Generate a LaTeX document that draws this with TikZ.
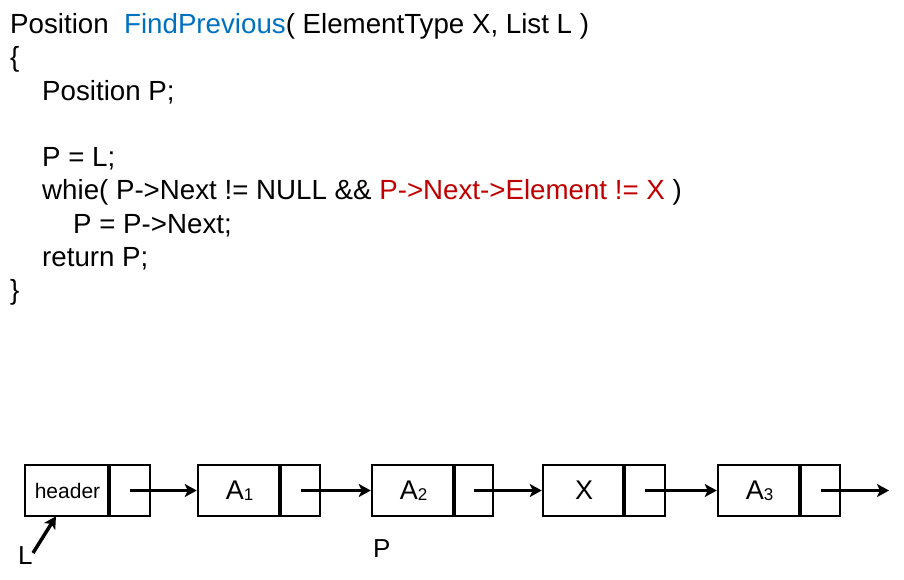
\documentclass[tikz,border=0pt]{standalone}
\usepackage{fontspec}
\setmainfont{Liberation Sans}
\usetikzlibrary{arrows.meta}
\definecolor{fnblue}{RGB}{0,112,192}
\definecolor{condred}{RGB}{192,0,0}
\begin{document}
\begin{tikzpicture}[x=1pt,y=-1pt,
  code/.style={anchor=base west,inner sep=0pt,font=\fontsize{27.7}{33}\selectfont},
  datacell/.style={draw,line width=2.5pt,minimum height=51pt,inner sep=0pt,font=\fontsize{27}{30}\selectfont},
  ptrcell/.style={draw,line width=2.5pt,minimum height=51pt,minimum width=40pt,inner sep=0pt},
  link/.style={line width=3.3pt,-{Stealth[length=12pt,width=13pt,inset=3pt]}},
  lbl/.style={anchor=base west,inner sep=0pt,font=\fontsize{26}{30}\selectfont}]
\useasboundingbox (0,0) rectangle (904,579);
\newcommand{\sbs}[1]{\raisebox{-1pt}{\fontsize{17}{17}\selectfont #1}}
% code
\node[code] (l1) at (10,33) {Position\ \ \textcolor{fnblue}{FindPrevious}( ElementType X, List L )};
\node[code] (l2) at (10,66) {\{};
\node[code] (l3) at (42,100) {Position P;};
\node[code] (l4) at (42,166) {P = L;};
\node[code] (l5) at (42,199) {whie( P->Next != NULL \&\& \textcolor{condred}{P->Next->Element != X} )};
\node[code] (l6) at (73,233) {P = P->Next;};
\node[code] (l7) at (42,266) {return P;};
\node[code] (l8) at (10,299) {\}};
% list
\node[datacell,minimum width=85pt,font=\fontsize{21}{24}\selectfont] (h) at (67.5,490.5) {header};
\node[ptrcell] (hp) at (130,490.5) {};
\node[datacell,minimum width=83pt] (a1) at (239.5,490.5) {A\sbs{1}};
\node[ptrcell,minimum width=39pt] (a1p) at (300.5,490.5) {};
\node[datacell,minimum width=83pt] (a2) at (413.5,490.5) {A\sbs{2}};
\node[ptrcell,minimum width=38pt] (a2p) at (474,490.5) {};
\node[datacell,minimum width=82pt] (x) at (584,490.5) {X};
\node[ptrcell,minimum width=40pt] (xp) at (645,490.5) {};
\node[datacell,minimum width=83pt] (a3) at (759.5,490.5) {A\sbs{3}};
\node[ptrcell,minimum width=39pt] (a3p) at (820.5,490.5) {};
\foreach \p in {hp,a1p,a2p,xp,a3p}{
  \draw[line width=4pt] (\p.north west) -- (\p.south west);
}
\draw[link] (hp.center) -- (a1.west);
\draw[link] (a1p.center) -- (a2.west);
\draw[link] (a2p.center) -- (x.west);
\draw[link] (xp.center) -- (a3.west);
\coordinate (nullend) at (889,490.5);
\draw[link] (a3p.center) -- (nullend);
% labels
\node[lbl] (L) at (18,564) {L};
\node[lbl] (P) at (373,557) {P};
\coordinate (Lfrom) at (33,553);
\draw[line width=3.5pt,-{Stealth[length=12pt,width=13pt,inset=3pt]}] (Lfrom) -- ([xshift=-11.5pt,yshift=1pt]h.south);
\end{tikzpicture}
\end{document}
